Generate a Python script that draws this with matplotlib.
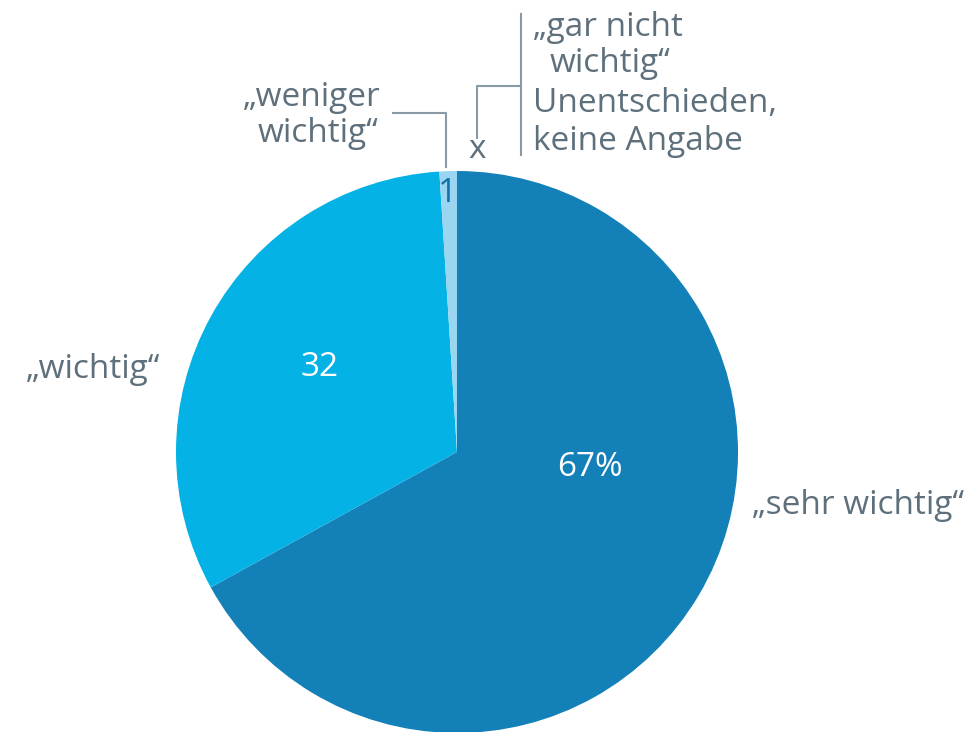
import matplotlib
matplotlib.use("Agg")
import matplotlib.pyplot as plt

# Daten
categories = ["„sehr wichtig“", "„wichtig“", "„weniger wichtig“", "„gar nicht wichtig“"]
values = [67, 32, 1, 0]
value_labels = ["67%", "32", "1", "x"]
colors = ["#1380B8", "#05B2E6", "#9AD6F2", "#9AD6F2"]

W, H = 980, 732
text_col = "#5E707C"
line_col = "#8A9AA5"
plt.rcParams['font.family'] = ['Open Sans', 'DejaVu Sans']

fig = plt.figure(figsize=(W / 100, H / 100), dpi=100)
ax = fig.add_axes([0, 0, 1, 1])
ax.set_xlim(0, W)
ax.set_ylim(0, H)
ax.set_aspect("equal")
ax.axis("off")


def py(y):
    # Pixel von oben -> Datenkoordinate
    return H - y


cx, cy, r = 457, py(452), 281
ax.pie(values[:3], colors=colors[:3], startangle=90, counterclock=False,
       center=(cx, cy), radius=r, wedgeprops=dict(linewidth=0))
ax.set_xlim(0, W)
ax.set_ylim(0, H)

fs = 24
# Werte in den Segmenten
ax.text(590, py(468), value_labels[0], color="white", fontsize=fs, ha="center", va="center")
ax.text(320, py(367), value_labels[1], color="white", fontsize=fs, ha="center", va="center")
ax.text(448, py(193), value_labels[2], color="#1372A8", fontsize=fs, ha="center", va="center")
ax.text(477, py(150), value_labels[3], color=text_col, fontsize=fs, ha="center", va="center")

# Kategorien
ax.text(752, py(505), categories[0], color=text_col, fontsize=fs, ha="left", va="center")
ax.text(160, py(370), categories[1], color=text_col, fontsize=fs, ha="right", va="center")
ax.text(243, py(98), "„weniger", color=text_col, fontsize=fs, ha="left", va="center")
ax.text(258, py(134), "wichtig“", color=text_col, fontsize=fs, ha="left", va="center")
ax.text(533, py(27), "„gar nicht", color=text_col, fontsize=fs, ha="left", va="center")
ax.text(550, py(64), "wichtig“", color=text_col, fontsize=fs, ha="left", va="center")
ax.text(533, py(103), "Unentschieden,", color=text_col, fontsize=fs, ha="left", va="center")
ax.text(533, py(141), "keine Angabe", color=text_col, fontsize=fs, ha="left", va="center")

# Hinweislinien
ax.plot([393, 446, 446], [py(113), py(113), py(167)], color=line_col, lw=1.5)
ax.plot([477, 477, 521], [py(138), py(86), py(86)], color=line_col, lw=1.5)
ax.plot([521, 521], [py(14), py(155)], color=line_col, lw=1.5)

fig.savefig("out.png", dpi=100)
